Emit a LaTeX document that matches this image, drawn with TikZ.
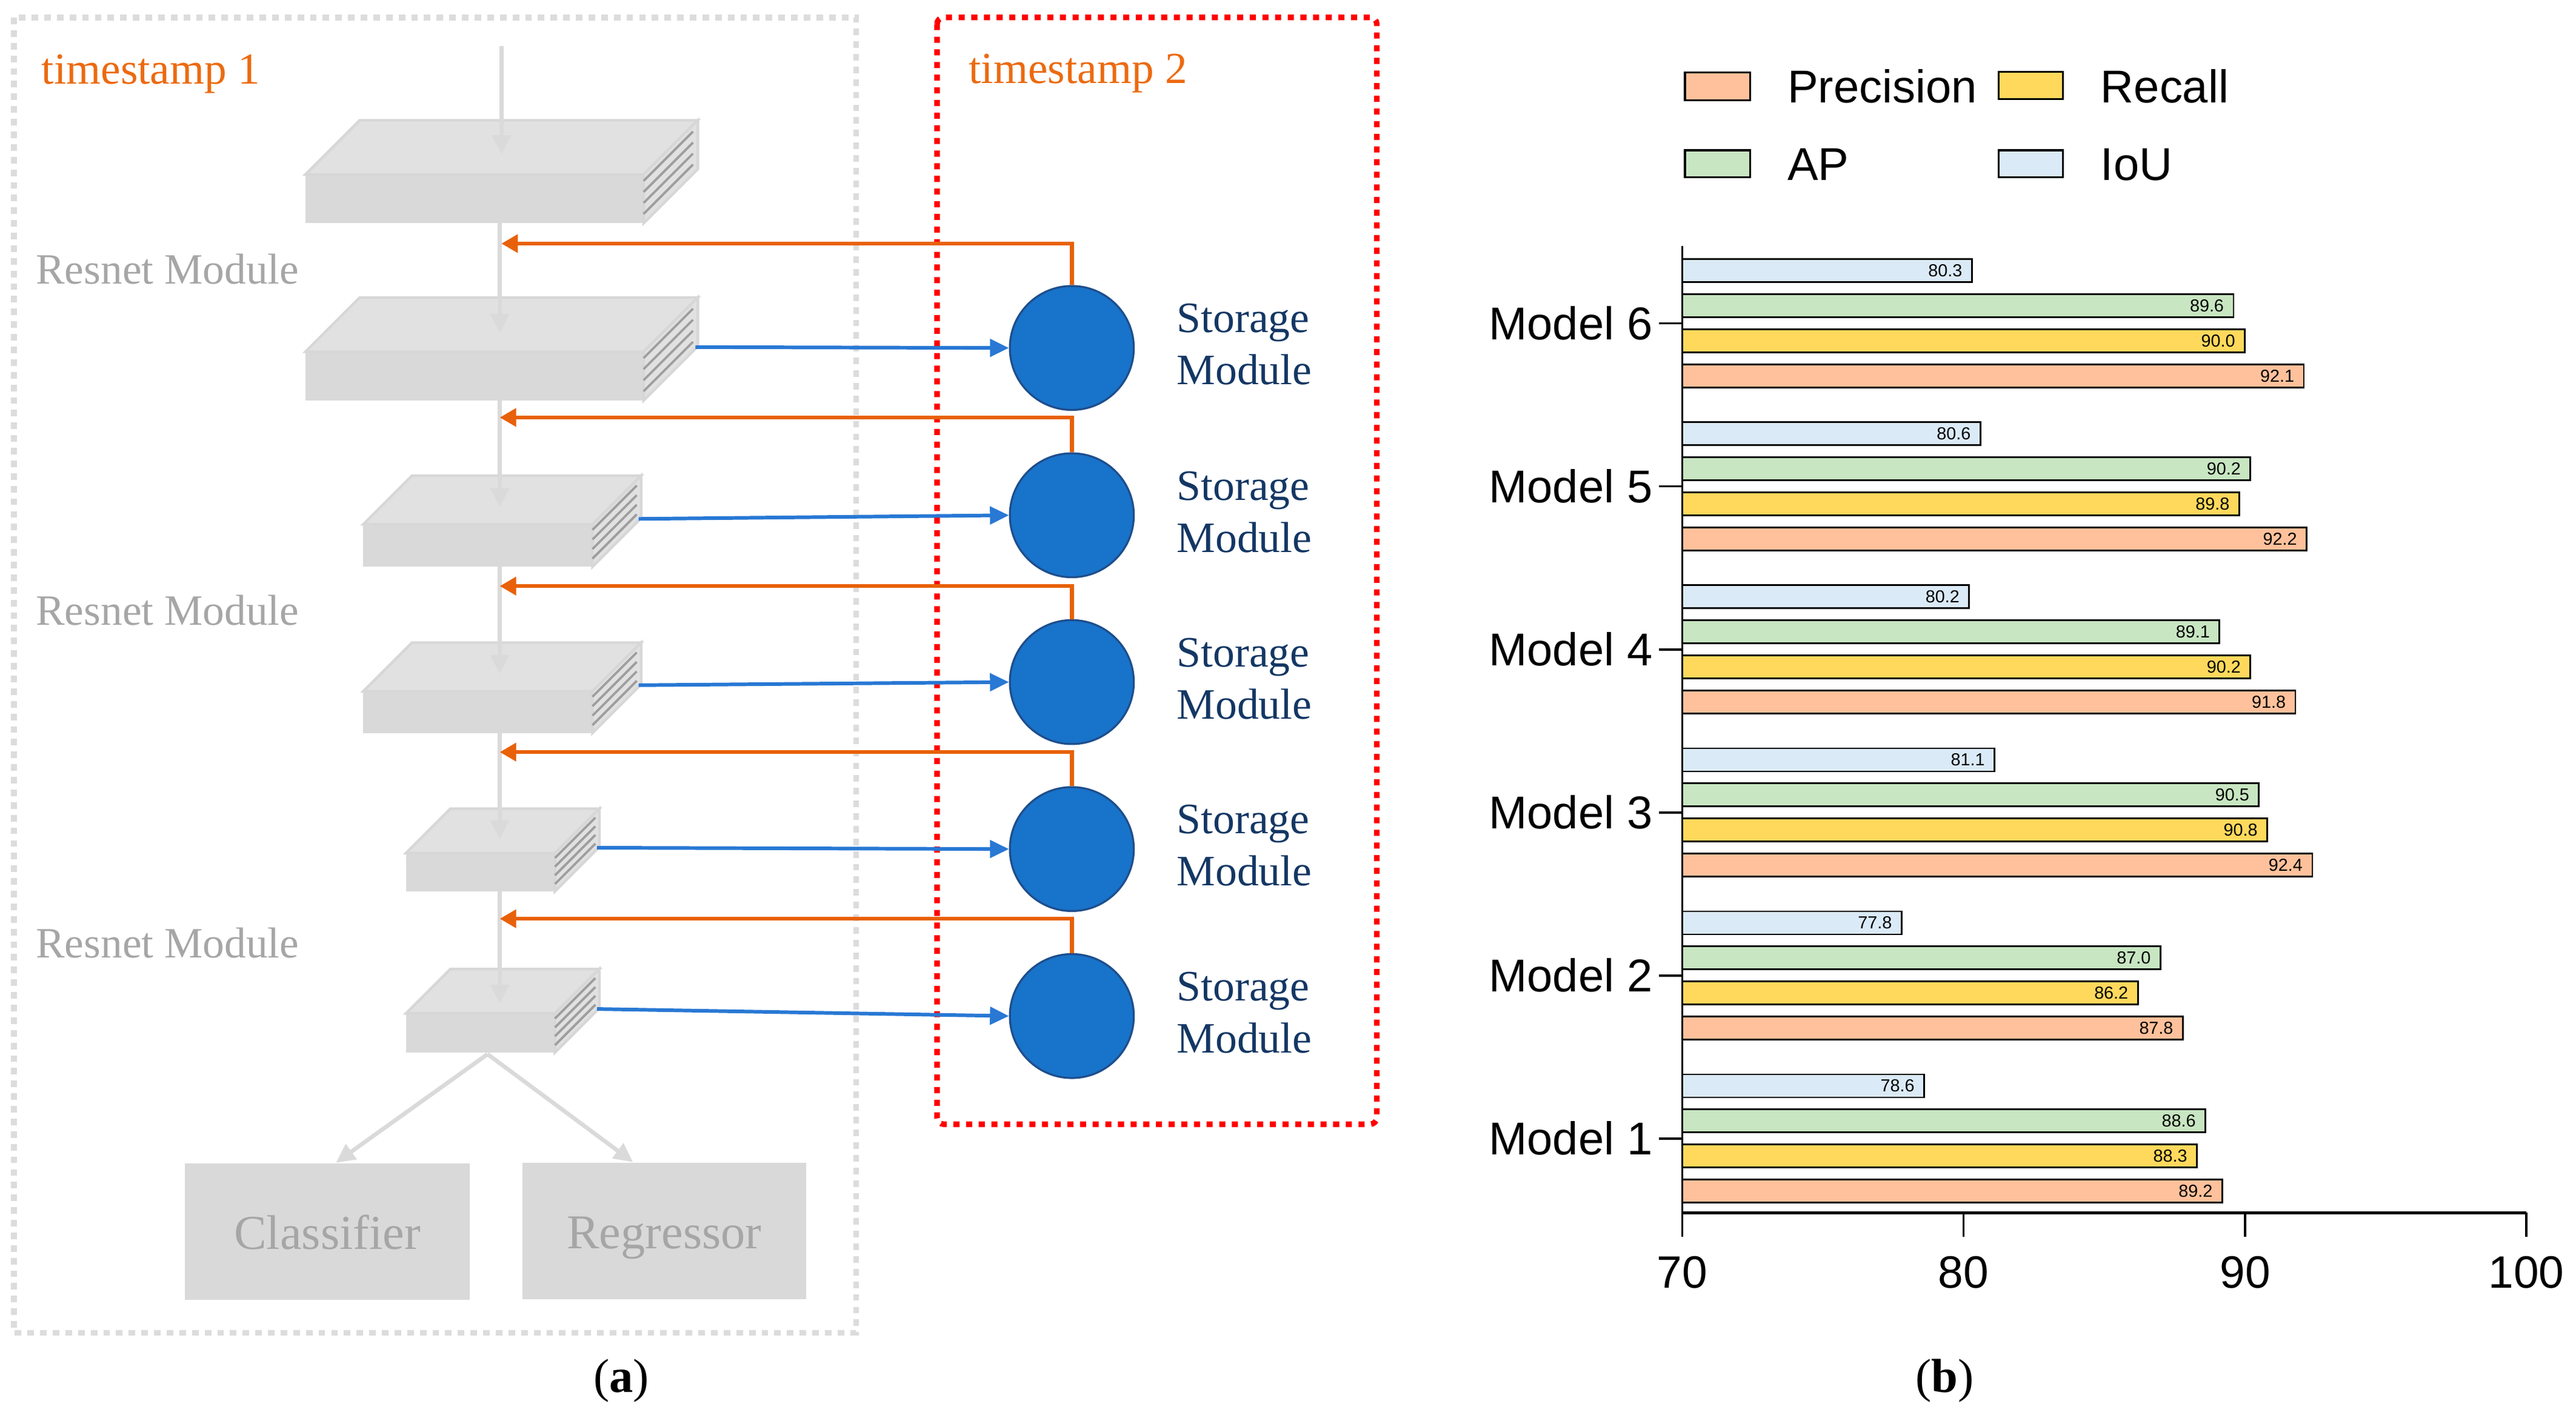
\documentclass[tikz,border=0pt]{standalone}
\usepackage{fontspec}
\setmainfont{Liberation Serif}
\newfontfamily\chartfont{Liberation Sans}
\usetikzlibrary{arrows.meta,calc}

\definecolor{tsorange}{RGB}{236,106,16}
\definecolor{arrorange}{RGB}{232,97,10}
\definecolor{arrblue}{RGB}{40,120,212}
\definecolor{circfill}{RGB}{24,115,202}
\definecolor{circdraw}{RGB}{30,78,140}
\definecolor{storetext}{RGB}{20,55,100}
\definecolor{boxgrey}{RGB}{217,217,217}
\definecolor{topgrey}{RGB}{225,225,225}
\definecolor{slabedge}{RGB}{215,215,215}
\definecolor{stripegrey}{RGB}{158,158,158}
\definecolor{textgrey}{RGB}{166,166,166}
\definecolor{linegrey}{RGB}{218,218,218}
\definecolor{dashgrey}{RGB}{220,220,220}
\definecolor{precol}{RGB}{255,193,155}
\definecolor{reccol}{RGB}{255,217,92}
\definecolor{apcol}{RGB}{200,230,193}
\definecolor{ioucol}{RGB}{219,234,247}

\tikzset{
  slabtop/.style={fill=topgrey, draw=slabedge, line width=0.8pt},
  slabstripe/.style={draw=stripegrey, line width=0.7pt},
  flowline/.style={draw=linegrey, line width=1.25pt, -{Triangle[length=5.75pt,width=5.5pt]}},
  feedback/.style={draw=arrorange, line width=1.2pt, -{Triangle[length=5pt,width=5.4pt]}},
  tostore/.style={draw=arrblue, line width=1.1pt, -{Triangle[length=5.75pt,width=5.3pt]}},
  store/.style={circle, fill=circfill, draw=circdraw, line width=0.6pt, minimum size=37.7pt, inner sep=0pt},
  storelabel/.style={text=storetext, font=\fontsize{13.2}{15}\selectfont, anchor=base west, inner sep=0pt},
  resnetlabel/.style={text=textgrey, font=\fontsize{13.15}{15}\selectfont, anchor=base west, inner sep=0pt},
  tslabel/.style={text=tsorange, font=\fontsize{13.5}{16}\selectfont, anchor=base west, inner sep=0pt},
  headbox/.style={fill=boxgrey, text=textgrey, font=\fontsize{14.8}{17}\selectfont, minimum height=41.45pt, inner sep=0pt, text height=14.8pt, text depth=3.85pt},
  capt/.style={font=\fontsize{14.5}{16}\selectfont, anchor=base, inner sep=0pt},
  bar/.style={draw=black, line width=0.5pt},
  vallabel/.style={font=\chartfont\fontsize{5.3}{6}\selectfont, anchor=east, inner sep=0pt},
  chartlabel/.style={font=\chartfont\fontsize{14}{16}\selectfont, inner sep=0pt},
  axis/.style={draw=black, line width=0.7pt},
  swatch/.style={draw=black, line width=0.6pt},
}

% slab: name, xl, xr, yt, yb, depth
\newcommand\slab[6]{%
  \fill[boxgrey] (#2,#4) rectangle (#3,#5);
  \filldraw[slabtop] (#2,#4) -- ({#2+#6},{#4-#6}) -- ({#3+#6},{#4-#6}) -- (#3,#4) -- cycle;
  \filldraw[slabtop] (#3,#4) -- ({#3+#6},{#4-#6}) -- ({#3+#6},{#5-#6}) -- (#3,#5) -- cycle;
  \foreach \f in {0.13,0.357,0.583,0.81}
    \draw[slabstripe] (#3,{#4+\f*(#5-#4)}) -- ({#3+0.91*#6},{#4+\f*(#5-#4)-0.91*#6});
  \coordinate (#1bot) at (304,#5);
  \coordinate (#1out) at ({#3+#6-1.5},{#5-#6+0.5});
}

\begin{document}
\begin{tikzpicture}[x=0.5pt,y=-0.5pt]
\useasboundingbox (0,0) rectangle (1567,864.3);

% ---------- panel (a) ----------
\draw[dashgrey, line width=1.7pt, dash pattern=on 2pt off 1.85pt] (8.5,10.7) rectangle (520.7,811);
\draw[red, line width=1.7pt, dash pattern=on 1.85pt off 2pt, rounded corners=2pt] (570,10.6) rectangle (837.5,684);

\node[tslabel] (ts1) at (25,51) {timestamp 1};
\node[tslabel] (ts2) at (589,50.6) {timestamp 2};

\node[resnetlabel] (rn1) at (21.5,172.8) {Resnet Module};
\node[resnetlabel] (rn2) at (21.5,380.4) {Resnet Module};
\node[resnetlabel] (rn3) at (21.5,582.8) {Resnet Module};

\slab{b1}{185.8}{391.5}{106.2}{135.8}{33}
\slab{b2}{185.8}{391.5}{214}{243.7}{33}
\slab{b3}{221}{360.4}{319}{344.8}{29.6}
\slab{b4}{221}{360.4}{420.6}{446}{29.6}
\slab{b5}{247}{337.6}{519}{542.3}{27}
\slab{b6}{247}{337.6}{616.6}{640.4}{27}

\node[headbox, minimum width=86.65pt] (cls) at (199.15,749.25) {Classifier};
\node[headbox, minimum width=86.25pt] (reg) at (404.05,748.85) {Regressor};

% main flow
\coordinate (top) at (305,28);
\coordinate (t1) at (305,93.8);
\coordinate (t2) at (304,202.5);
\coordinate (t3) at (304,308.5);
\coordinate (t4) at (304,410);
\coordinate (t5) at (304,510.6);
\coordinate (t6) at (304,610.6);
\draw[flowline] (top) -- (t1);
\draw[flowline] (b1bot) -- (t2);
\draw[flowline] (b2bot) -- (t3);
\draw[flowline] (b3bot) -- (t4);
\draw[flowline] (b4bot) -- (t5);
\draw[flowline] (b5bot) -- (t6);
\coordinate (split) at (296.6,641.4);
\draw[flowline] (split) -- ($(cls.north west)!0.53!(cls.north east)$);
\draw[flowline] (split) -- ($(reg.north west)!0.39!(reg.north east)$);

% storage modules
\foreach \i/\cy in {1/211.7,2/313.5,3/415,4/516.6,5/618.2}{
  \node[store] (c\i) at (652,\cy) {};
  \node[storelabel] (sa\i) at (715.5,{\cy-9.3}) {Storage};
  \node[storelabel] (sb\i) at (715.5,{\cy+22.4}) {Module};
}

% feedback (orange)
\coordinate (f1) at (305,148.2);
\coordinate (f2) at (304,254);
\coordinate (f3) at (304,356.6);
\coordinate (f4) at (304,457.6);
\coordinate (f5) at (304,559);
\foreach \i in {1,...,5}{
  \draw[feedback] (c\i.north) |- (f\i);
}

% to storage (blue)
\draw[tostore] (b2out) -- (c1.west);
\draw[tostore] (b3out) -- (c2.west);
\draw[tostore] (b4out) -- (c3.west);
\draw[tostore] (b5out) -- (c4.west);
\draw[tostore] (b6out) -- (c5.west);

\node[capt] (capa) at (378,847) {(\textbf{a})};

% ---------- panel (b) ----------
% legend
\draw[swatch, fill=precol] (1025,44.1) rectangle (1064.6,60.9);
\node[chartlabel, anchor=base west] (lgp) at (1087,62.6) {Precision};
\draw[swatch, fill=reccol] (1215.7,43.8) rectangle (1254.8,60.4);
\node[chartlabel, anchor=base west] (lgr) at (1277.5,62.6) {Recall};
\draw[swatch, fill=apcol] (1025,91.4) rectangle (1064.6,107.8);
\node[chartlabel, anchor=base west] (lga) at (1087,109.5) {AP};
\draw[swatch, fill=ioucol] (1215.7,91.4) rectangle (1254.8,107.8);
\node[chartlabel, anchor=base west] (lgi) at (1277.5,109.5) {IoU};

% bars
\foreach \k/\a/\b/\c/\d in {6/80.3/89.6/90.0/92.1, 5/80.6/90.2/89.8/92.2, 4/80.2/89.1/90.2/91.8, 3/81.1/90.5/90.8/92.4, 2/77.8/87.0/86.2/87.8, 1/78.6/88.6/88.3/89.2}{
  \pgfmathsetmacro\ty{692.7-99.2*(\k-1)}
  \foreach \val/\off/\col/\j in {\a/-32/ioucol/1, \b/-10.7/apcol/2, \c/10.7/reccol/3, \d/32/precol/4}{
    \draw[bar, fill=\col] (1023.3,{\ty+\off-7}) rectangle ({1023.3+(\val-70)*17.11},{\ty+\off+7});
    \node[vallabel] (v\k\j) at ({1023.3+(\val-70)*17.11-5.5},{\ty+\off}) {\val};
  }
  \draw[axis] (1009,\ty) -- (1023.3,\ty);
  \node[chartlabel, anchor=base east] (m\k) at (1005.7,{\ty+9.9}) {Model \k};
}

% axes
\draw[axis] (1023.3,149.8) -- (1023.3,737.8);
\draw[draw=black, line width=0.9pt] (1023.3,737.8) -- (1536.7,737.8);
\foreach \t/\xx in {70/1023.3, 80/1194.4, 90/1365.8, 100/1536.7}{
  \draw[axis] (\xx,737.8) -- (\xx,752.6);
  \node[chartlabel, font=\chartfont\fontsize{13.8}{16}\selectfont, anchor=base] (x\t) at (\xx,783.6) {\t};
}

\node[capt] (capb) at (1183,847) {(\textbf{b})};
\end{tikzpicture}
\end{document}
